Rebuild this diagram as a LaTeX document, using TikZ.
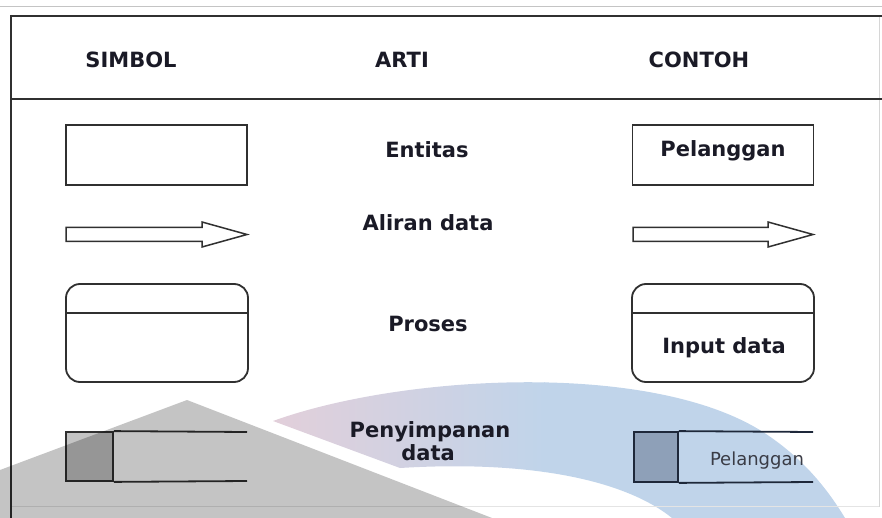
\documentclass[tikz,border=0pt]{standalone}
\usepackage{fontspec}
\setmainfont{DejaVu Sans}

\definecolor{ink}{RGB}{26,26,38}
\definecolor{rule}{RGB}{48,48,48}
\definecolor{faint}{RGB}{196,196,196}
\definecolor{bandpink}{RGB}{226,207,218}
\definecolor{bandblue}{RGB}{192,212,234}
\definecolor{storefill}{RGB}{196,196,196}
\definecolor{storeblue}{RGB}{142,160,184}
\definecolor{storeline}{RGB}{30,40,58}
\definecolor{plaintext}{RGB}{58,60,70}

\begin{document}
\begin{tikzpicture}[x=1pt,y=-1pt,
  shapeline/.style={draw=rule, line width=1.8pt},
  boxnode/.style={shapeline, minimum width=181pt, minimum height=60pt, inner sep=0pt},
  procnode/.style={shapeline, rounded corners=14pt, minimum width=182pt, minimum height=98pt, inner sep=0pt},
  labeltext/.style={font=\bfseries\fontsize{21}{23}\selectfont, text=ink, inner sep=0pt, anchor=base},
  headtext/.style={labeltext},
  flowarrow/.style={draw=rule, line width=1.5pt, fill=white, line join=miter}]
\useasboundingbox (0,0) rectangle (882,518);

% curved band in the background, pink fading into blue
\begin{scope}
  \clip (273,421) .. controls (400,375) and (650,360) .. (763,432)
        .. controls (800,456) and (825,485) .. (845,518)
        -- (672,518) .. controls (625,480) and (530,460) .. (400,468) -- cycle;
  \shade[left color=bandpink, right color=bandblue] (273,360) rectangle (545,518);
  \fill[bandblue] (544,360) rectangle (882,518);
\end{scope}

% table frame
\draw[faint, line width=1pt] (0,7) -- (882,7);
\draw[faint!70, line width=1pt] (879,17) -- (879,507);
\draw[faint!45, line width=0.8pt] (11,506) -- (879,506);
\draw[rule, line width=2pt] (11,16) -- (882,16);
\draw[rule, line width=2pt] (11,15) -- (11,518);
\draw[rule, line width=2.4pt] (11,99) -- (882,99);

% column headings
\node[headtext] (hSimbol) at (131,67.5) {SIMBOL};
\node[headtext] (hArti)   at (402,67.5) {ARTI};
\node[headtext] (hContoh) at (699,67.5) {CONTOH};

% row 1: entity
\node[boxnode] (entSym) at (156.5,155) {};
\node[labeltext] (entMean) at (427,157.5) {Entitas};
\node[boxnode] (entEx) at (723,155) {};
\node[labeltext] (entExText) at (723,157) {Pelanggan};

% row 2: data flow
\draw[flowarrow] (66,227.5) coordinate (flowSymTail) -- (202,227.5) -- (202,222)
  -- (247,234.5) coordinate (flowSymTip) -- (202,247) -- (202,241.5) -- (66,241.5) -- cycle;
\node[labeltext] (flowMean) at (428,231) {Aliran data};
\draw[flowarrow] (633,227.5) coordinate (flowExTail) -- (768,227.5) -- (768,222)
  -- (813,234.5) coordinate (flowExTip) -- (768,247) -- (768,241.5) -- (633,241.5) -- cycle;

% row 3: process
\node[procnode] (procSym) at (157,333) {};
\draw[shapeline] (procSym.west |- 0,313) -- (procSym.east |- 0,313);
\node[labeltext] (procMean) at (428,331) {Proses};
\node[procnode] (procEx) at (723,333) {};
\draw[shapeline] (procEx.west |- 0,313) -- (procEx.east |- 0,313);
\node[labeltext] (procExText) at (724,353) {Input data};

% row 4: data store
\node[shapeline, fill=storefill, minimum width=47pt, minimum height=49pt, inner sep=0pt]
  (storeSym) at (89.5,456.5) {};
\draw[shapeline] (storeSym.north east) -- (247,432);
\draw[shapeline] (storeSym.south east) -- (247,481);
\node[labeltext, align=center] (storeMean1) at (430,437) {Penyimpanan};
\node[labeltext] (storeMean2) at (428,460) {data};
\node[draw=storeline, line width=1.8pt, fill=storeblue, minimum width=44pt, minimum height=50pt, inner sep=0pt]
  (storeEx) at (656,457) {};
\draw[draw=storeline, line width=1.8pt] (storeEx.north east) -- (813,432);
\draw[draw=storeline, line width=1.8pt] (storeEx.south east) -- (813,482);
\node[font=\fontsize{18}{20}\selectfont, text=plaintext, inner sep=0pt, anchor=base]
  (storeExText) at (757,465) {Pelanggan};

% translucent grey wedge over the lower left
\fill[black, opacity=0.23] (187,400) -- (492,518) -- (0,518) -- (0,470) -- cycle;
\end{tikzpicture}
\end{document}
